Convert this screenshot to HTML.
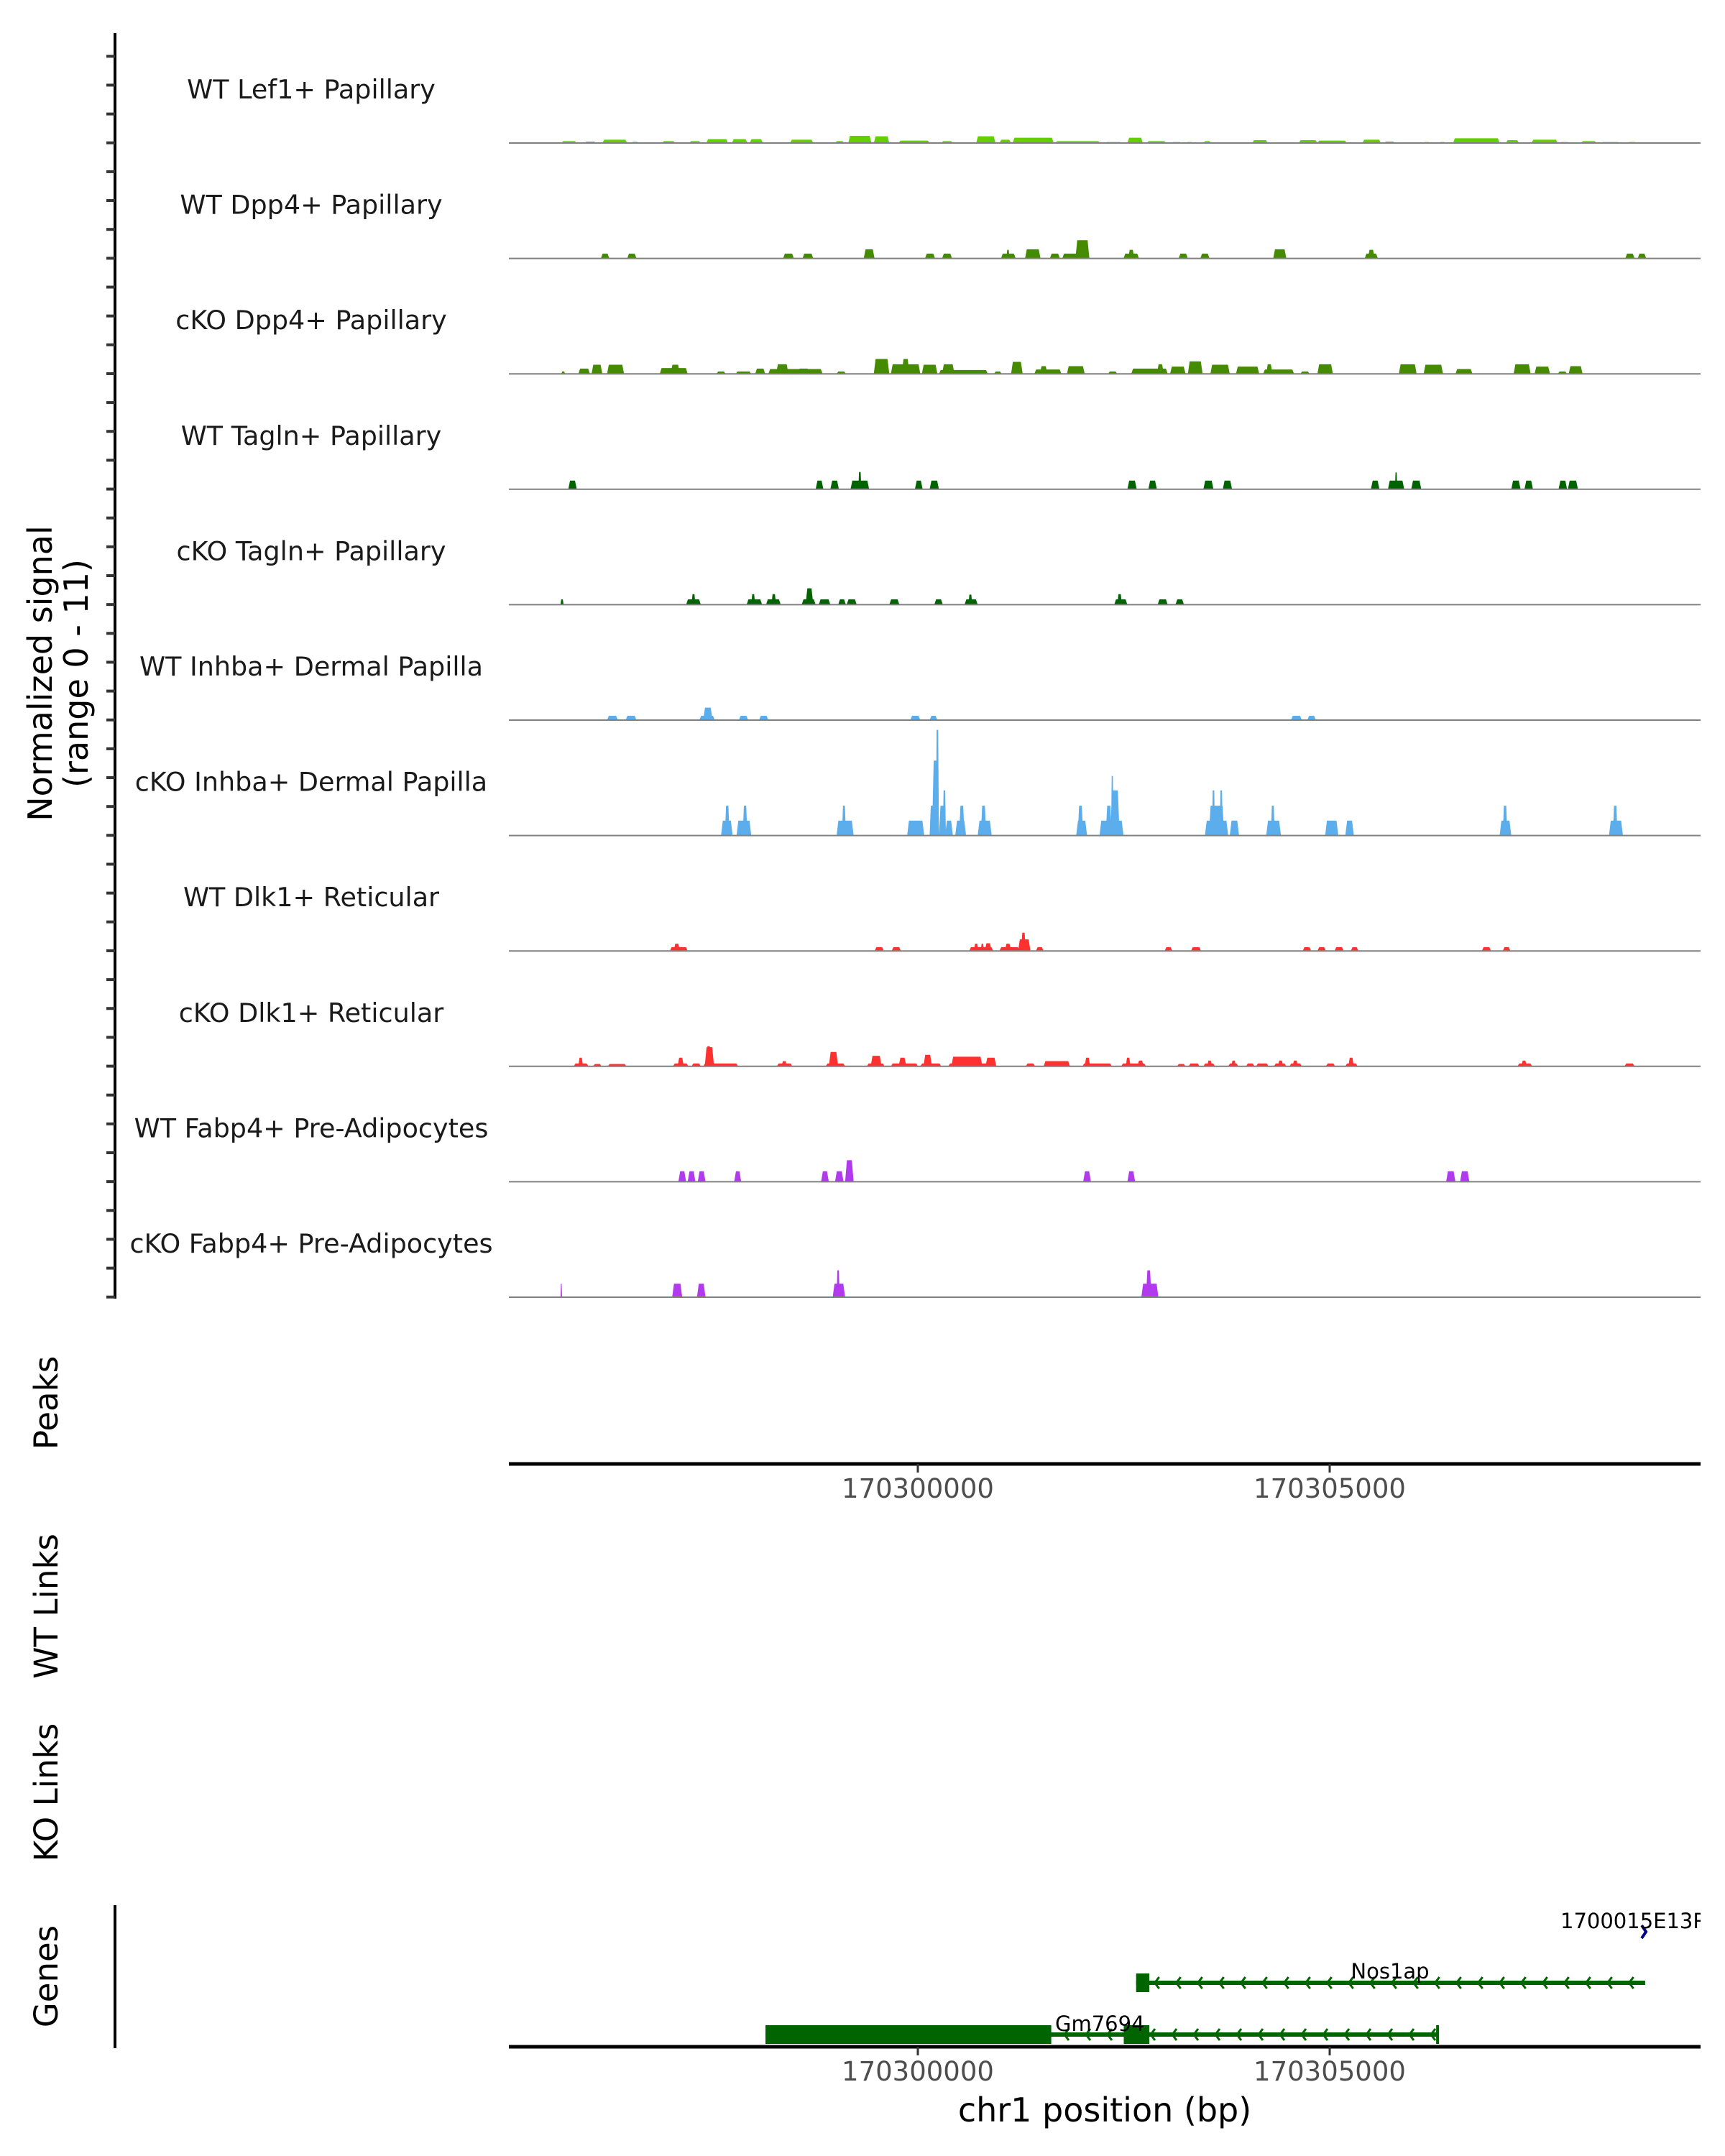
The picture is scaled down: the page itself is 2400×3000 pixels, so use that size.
<!DOCTYPE html>
<html><head><meta charset="utf-8">
<style>
html,body{margin:0;padding:0;background:#fff;}
svg{display:block;font-family:"DejaVu Sans","Liberation Sans",sans-serif;}
</style></head>
<body>
<svg id="chart" xmlns="http://www.w3.org/2000/svg" width="2400" height="3000" viewBox="0 0 2400 3000">
<defs><clipPath id="plotclip"><rect x="700" y="0" width="1666" height="3000"/></clipPath></defs>
<rect width="2400" height="3000" fill="#fff"/>
</svg>
<script>
// Region and data (positions given as genomic bins of binSize bp from regionStart)
const regionStart = 170294965;
const binSize = 9.415;
const xTicks = [170300000, 170305000];
const xTickLabels = ["170300000", "170305000"];
const trackNames = ["WT Lef1+ Papillary","WT Dpp4+ Papillary","cKO Dpp4+ Papillary","WT Tagln+ Papillary","cKO Tagln+ Papillary","WT Inhba+ Dermal Papilla","cKO Inhba+ Dermal Papilla","WT Dlk1+ Reticular","cKO Dlk1+ Reticular","WT Fabp4+ Pre-Adipocytes","cKO Fabp4+ Pre-Adipocytes"];
const trackColors = ["#64cf00","#458b00","#458b00","#006400","#006400","#5badeb","#5badeb","#ff3030","#ff3030","#b23aee","#b23aee"];
const signalMax = 11;
// [startBin, endBin, signal]
const lef1WT = [[75,95,0.2],[105,120,0.15],[128,160,0.35],[165,175,0.12],[205,222,0.2],[240,255,0.2],[262,290,0.4],[295,315,0.4],[318,335,0.4],[370,400,0.35],[428,440,0.2],[445,475,0.75],[478,498,0.7],[510,550,0.25],[565,580,0.2],[610,635,0.7],[640,655,0.35],[657,710,0.55],[712,770,0.2],[776,798,0.1],[805,825,0.55],[830,855,0.2],[862,875,0.1],[880,890,0.1],[903,913,0.2],[966,986,0.3],[1026,1050,0.3],[1050,1088,0.25],[1108,1132,0.35],[1136,1150,0.15],[1186,1196,0.1],[1206,1216,0.1],[1225,1285,0.5],[1293,1310,0.3],[1326,1360,0.35],[1362,1375,0.1],[1390,1410,0.2],[1416,1440,0.1],[1450,1462,0.1]];
const dpp4WT = [[126,137,0.5],[160,172,0.5],[361,375,0.5],[386,400,0.5],[465,479,0.95],[544,557,0.5],[566,579,0.5],[642,661,0.5],[649,653,0.9],[673,693,0.95],[705,718,0.5],[721,742,0.5],[738,756,1.9],[800,820,0.5],[806,814,0.9],[871,883,0.5],[899,911,0.5],[993,1010,0.95],[1111,1128,0.5],[1115,1124,0.9],[1447,1459,0.5],[1463,1474,0.5]];
const dpp4KO = [[75,80,0.25],[97,112,0.55],[114,128,0.95],[134,156,0.95],[202,238,0.6],[216,228,0.95],[275,287,0.25],[300,320,0.25],[325,338,0.55],[342,412,0.5],[352,368,1.0],[380,395,0.55],[430,442,0.25],[478,498,1.55],[500,538,1.0],[514,524,1.55],[540,560,0.95],[562,625,0.4],[566,582,1.0],[633,643,0.25],[655,670,1.25],[685,720,0.45],[692,702,0.8],[727,750,0.8],[780,792,0.25],[810,857,0.55],[843,852,1.0],[860,880,0.75],[883,902,1.3],[912,937,0.95],[945,975,0.75],[980,1020,0.45],[984,992,1.0],[1028,1040,0.25],[1050,1070,1.0],[1155,1178,1.0],[1187,1212,0.95],[1228,1250,0.5],[1303,1325,1.0],[1330,1350,0.75],[1360,1372,0.25],[1374,1392,0.8]];
const taglnWT = [[84,95,0.9],[403,413,0.9],[422,433,0.9],[448,472,0.9],[458,462,1.8],[531,541,0.9],[550,562,0.9],[805,817,0.9],[832,843,0.9],[903,916,0.9],[928,940,0.9],[1119,1130,0.9],[1141,1162,0.9],[1150,1153,1.75],[1171,1184,0.9],[1300,1312,0.9],[1317,1328,0.9],[1361,1372,0.9],[1373,1386,0.9]];
const taglnKO = [[74,78,0.55],[236,255,0.55],[243,248,1.1],[314,334,0.55],[320,325,1.1],[339,358,0.55],[346,352,1.1],[385,403,0.55],[390,400,1.7],[407,422,0.55],[432,442,0.55],[443,456,0.55],[498,511,0.55],[556,567,0.55],[595,612,0.55],[600,605,1.05],[788,805,0.55],[792,798,1.1],[844,857,0.55],[867,878,0.55]];
const inhbaWT = [[134,148,0.45],[158,172,0.45],[253,273,0.45],[258,270,1.3],[304,316,0.45],[330,342,0.45],[525,538,0.45],[550,560,0.45],[1016,1030,0.45],[1037,1048,0.45]];
const inhbaKO = [[281,296,1.55],[286,292,3.1],[301,320,1.55],[309,315,3.1],[430,452,1.55],[437,442,3.1],[521,543,1.55],[550,556,3.1],[553,562,7.8],[558,562,11],[562,570,3.1],[567,571,4.7],[570,580,1.55],[583,597,1.55],[588,595,3.1],[612,630,1.55],[616,623,3.1],[739,753,1.55],[741,748,3.1],[769,800,1.55],[777,785,3.1],[783,795,4.7],[784,787,6.2],[905,935,1.55],[910,930,3.1],[914,918,4.7],[924,928,4.7],[937,949,1.55],[984,1003,1.55],[990,995,3.1],[1060,1077,1.55],[1086,1097,1.55],[1285,1300,1.55],[1289,1295,3.1],[1426,1444,1.55],[1431,1437,3.1]];
const dlk1WT = [[215,238,0.4],[220,228,0.75],[479,491,0.4],[501,513,0.4],[601,632,0.4],[607,613,0.75],[616,620,0.75],[621,630,0.8],[640,666,0.4],[647,655,0.75],[664,680,1.2],[668,674,1.9],[687,697,0.4],[853,863,0.4],[887,900,0.4],[1031,1042,0.4],[1050,1061,0.4],[1072,1084,0.4],[1093,1103,0.4],[1262,1274,0.4],[1289,1299,0.4]];
const dlk1KO = [[91,110,0.3],[97,103,0.9],[116,127,0.25],[135,159,0.25],[219,239,0.3],[225,233,0.9],[243,255,0.3],[258,303,0.3],[260,272,2.0],[262,268,2.1],[353,373,0.3],[359,366,0.55],[416,441,0.3],[420,432,1.5],[469,492,0.3],[474,488,1.1],[500,535,0.3],[510,520,0.9],[538,565,0.3],[542,553,1.2],[574,636,0.3],[578,618,1.0],[622,636,0.9],[674,686,0.3],[697,731,0.55],[747,785,0.3],[750,757,0.9],[797,829,0.3],[803,809,0.9],[818,826,0.6],[869,880,0.25],[884,898,0.3],[903,918,0.3],[908,914,0.6],[935,948,0.3],[939,945,0.6],[958,969,0.3],[971,987,0.3],[994,1010,0.3],[999,1006,0.6],[1014,1030,0.3],[1018,1025,0.6],[1061,1073,0.3],[1086,1102,0.3],[1090,1097,0.9],[1308,1327,0.3],[1313,1320,0.6],[1446,1459,0.3]];
const fabp4WT = [[226,236,1.1],[238,248,1.1],[251,261,1.1],[298,307,1.1],[410,420,1.1],[428,439,1.1],[441,452,2.25],[748,758,1.1],[805,815,1.1],[1216,1228,1.1],[1234,1246,1.1]];
const fabp4KO = [[74,76,1.4],[218,231,1.4],[250,261,1.4],[425,441,1.4],[430,434,2.8],[823,845,1.4],[829,836,2.8]];
const trackData = [lef1WT,dpp4WT,dpp4KO,taglnWT,taglnKO,inhbaWT,inhbaKO,dlk1WT,dlk1KO,fabp4WT,fabp4KO];
// Genes
const geneNames = ["1700015E13Rik","Nos1ap","Gm7694"];
const geneStarts = [170308760, 170302650, 170298150];
const geneEnds = [170308840, 170308830, 170306310];
const geneRows = [0, 1, 2];
const geneStrands = ["+","-","-"];
const geneExonStarts = [[170308760],[170302650],[170298150,170302500]];
const geneExonEnds = [[170308840],[170302810],[170301620,170302810]];

const NS = "http://www.w3.org/2000/svg";
const svg = document.getElementById("chart");
const plotL = 708, plotR = 2366;
const bpL = 170295035, bpPerPx = 5000/573;
function xScale(bp){ return plotL + (bp - bpL)/bpPerPx; }
function binX(b){ return xScale(regionStart + b*binSize); }
const trackTop0 = 199, trackStep = 160.6;
function baseY(i){ return trackTop0 + i*trackStep; }
function yScale(v){ return v/signalMax*147; }
function el(tag, attrs, parent){ const e=document.createElementNS(NS,tag); for(const k in attrs) e.setAttribute(k,attrs[k]); (parent||svg).appendChild(e); return e; }

const yAxis = el("line",{x1:160,y1:46,x2:160,y2:1807,stroke:"#000","stroke-width":4});


for(let y=78.3; y<=1808; y+=40.15){
  const t = el("line",{x1:148,y1:y,x2:160,y2:y,stroke:"#333","stroke-width":4});
  
  
}
const yt = el("text",{transform:"translate(80,937) rotate(-90)","text-anchor":"middle","font-size":46,fill:"#000"});


yt.innerHTML = '<tspan x="0" dy="-8">Normalized signal</tspan><tspan x="0" dy="50">(range 0 - 11)</tspan>';

trackNames.forEach((name,i)=>{
  const g = el("g",{});
  
  
  const lb = el("text",{x:433,y:baseY(i)-62,"text-anchor":"middle","font-size":36.5,fill:"#1a1a1a"},g);
  lb.textContent = name;
  
  
  const b = baseY(i);
  trackData[i].forEach(p=>{
    const x0=binX(p[0]), x1=binX(p[1]), h=yScale(p[2]);
    const s=Math.min(2.5,(x1-x0)/4);
    const poly = el("polygon",{points:`${x0},${b} ${x0+s},${b-h} ${x1-s},${b-h} ${x1},${b}`,fill:trackColors[i]},g);
    
    
  });
  const bl = el("line",{x1:plotL,y1:b,x2:plotR,y2:b,stroke:"#808080","stroke-width":2},g);
  
  
});

[["Peaks",1952,"peaks-label"],["WT Links",2235,"wt-links-label"],["KO Links",2494,"ko-links-label"],["Genes",2750,"genes-label"]].forEach(a=>{
  const t = el("text",{transform:`translate(80,${a[1]}) rotate(-90)`,"text-anchor":"middle","font-size":45,fill:"#000"});
  t.textContent = a[0];
  
  
});

function xAxis(y, name){
  const a = el("line",{x1:plotL,y1:y,x2:plotR,y2:y,stroke:"#000","stroke-width":5});
  
  
  xTicks.forEach((v,k)=>{
    const x=xScale(v);
    const t = el("line",{x1:x,y1:y,x2:x,y2:y+12,stroke:"#333","stroke-width":3});
    
    
    const l = el("text",{x:x,y:y+47,"text-anchor":"middle","font-size":37,fill:"#4d4d4d"});
    l.textContent = xTickLabels[k];
    
    
  });
}
xAxis(2037,'peaks-x-axis');
xAxis(2848,'genes-x-axis');

const ga = el("line",{x1:160,y1:2651,x2:160,y2:2850,stroke:"#000","stroke-width":4});



const xt = el("text",{x:1537,y:2952,"text-anchor":"middle","font-size":46,fill:"#000"});
xt.textContent = "chr1 position (bp)";



const rowY = [2688, 2759, 2831];
geneNames.forEach((n,i)=>{
  const g = el("g",{"clip-path":"url(#plotclip)"});
  
  
  const y=rowY[geneRows[i]];
  const x0=xScale(geneStarts[i]), x1=xScale(geneEnds[i]);
  const col = i===0 ? "#00008b" : "#006400";
  if(i===0){
    const ar = el("polyline",{points:`${x1-6},${y-9} ${x1},${y} ${x1-6},${y+9}`,fill:"none",stroke:col,"stroke-width":4},g);
    
    
    const lb = el("text",{x:2171,y:2683,"font-size":29,fill:"#000"},g);
    lb.textContent = n;
    
    
    return;
  }
  const ln = el("line",{x1:x0,y1:y,x2:x1,y2:y,stroke:col,"stroke-width":6},g);
  
  
  for(let x=x0+28; x<x1-6; x+=30){
    const c = el("polyline",{points:`${x+4},${y-8} ${x-2},${y} ${x+4},${y+8}`,fill:"none",stroke:col,"stroke-width":3},g);
    
    
  }
  geneExonStarts[i].forEach((s,k)=>{
    const ex0=xScale(s), ex1=xScale(geneExonEnds[i][k]);
    const r = el("rect",{x:ex0,y:y-13,width:ex1-ex0,height:26,fill:col},g);
    
    
  });
  if(i===2){
    const e = el("line",{x1:x1,y1:y-13,x2:x1,y2:y+13,stroke:col,"stroke-width":4},g);
    
    
  }
  const lb = el("text",{x: i===1?1934:1468, y: i===1?2753:2826,"text-anchor": i===1?"middle":"start","font-size":29,fill:"#000"},g);
  lb.textContent = n;
  
  
});
</script>
</body></html>
